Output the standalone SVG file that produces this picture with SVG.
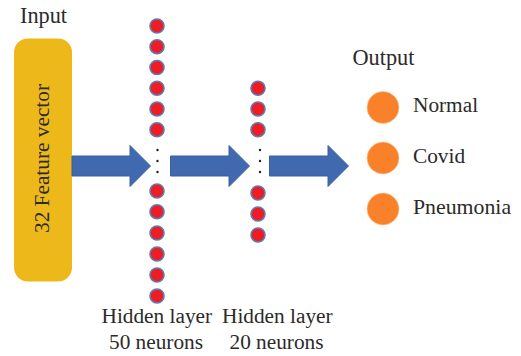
<svg xmlns="http://www.w3.org/2000/svg" width="521" height="356" viewBox="0 0 521 356">
<style>
text{font-family:"Liberation Serif","Times New Roman",serif;font-size:21.300px;fill:#2b2a29}
.b{font-size:22.300px}
.p{font-size:21.800px}
.n{fill:#ee1c25;stroke:#5b7db1;stroke-width:1.6}
.o{fill:#f9812a;stroke:#fbc9a4;stroke-width:.6}
.a{fill:#4169b0;stroke:#38619f;stroke-width:1}
.d{fill:#222}
</style>
<rect width="521" height="356" fill="#fff"/>
<g id="input"><text class="b" x="20" y="22.500">Input</text>
<rect x="14" y="38.500" width="58" height="243" rx="14" fill="#edb91a"/>
<text transform="translate(48.500 233) rotate(-90)">32 Feature vector</text></g>
<g id="connectors">
<path class="a" d="M72 156H130V145.500L150.500 166L130 186.500V176H72Z"/>
<path class="a" d="M170.500 156H229V145.500L249.500 166L229 186.500V176H170.500Z"/>
<path class="a" d="M269.500 156H328V145.500L348.500 166L328 186.500V176H269.500Z"/>
</g>
<g id="hidden1">
<circle class="n" cx="157" cy="26" r="7"/><circle class="n" cx="157" cy="46.700" r="7"/><circle class="n" cx="157" cy="67.500" r="7"/><circle class="n" cx="157" cy="88.200" r="7"/><circle class="n" cx="157" cy="109" r="7"/><circle class="n" cx="157" cy="129.700" r="7"/>
<circle class="d" cx="157.500" cy="150" r="1.200"/><circle class="d" cx="157.500" cy="161" r="1.200"/><circle class="d" cx="157.500" cy="172" r="1.200"/>
<circle class="n" cx="157" cy="191" r="7"/><circle class="n" cx="157" cy="211.700" r="7"/><circle class="n" cx="157" cy="233" r="7"/><circle class="n" cx="157" cy="254" r="7"/><circle class="n" cx="157" cy="275" r="7"/><circle class="n" cx="157" cy="296" r="7"/>
<text x="101.500" y="323">Hidden layer</text><text x="109" y="349">50 neurons</text></g>
<g id="hidden2">
<circle class="n" cx="258" cy="88.200" r="7"/><circle class="n" cx="258" cy="109" r="7"/><circle class="n" cx="258" cy="129.700" r="7"/>
<circle class="d" cx="260" cy="150" r="1.200"/><circle class="d" cx="260" cy="161" r="1.200"/><circle class="d" cx="260" cy="172" r="1.200"/>
<circle class="n" cx="258" cy="193" r="7"/><circle class="n" cx="258" cy="214" r="7"/><circle class="n" cx="258" cy="235" r="7"/>
<text x="222" y="323">Hidden layer</text><text x="229.500" y="349">20 neurons</text></g>
<g id="output"><text class="b" x="352.500" y="65">Output</text>
<circle class="o" cx="383" cy="107.500" r="16"/><text x="413" y="112">Normal</text>
<circle class="o" cx="383" cy="158" r="16"/><text x="413" y="163">Covid</text>
<circle class="o" cx="383" cy="209" r="16"/><text class="p" x="413" y="213.500">Pneumonia</text></g>
</svg>
